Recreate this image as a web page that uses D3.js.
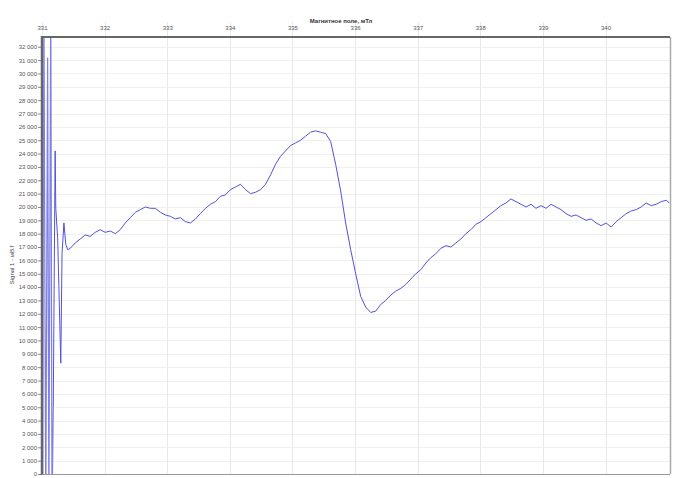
<!DOCTYPE html>
<html>
<head>
<meta charset="utf-8">
<script src="https://cdn.jsdelivr.net/npm/d3@7"></script>
<style>
  body { margin: 0; background: #fff; }
  .tick-label { font-family: "Liberation Sans", Arial, sans-serif; font-size: 6px; fill: #555; }
</style>
</head>
<body>
<div id="chart"></div>
<script>
// tick values
const fieldTicks = [331, 332, 333, 334, 335, 336, 337, 338, 339, 340];
const signalTicks = d3.range(0, 33000, 1000);

// data: [field mT, signal]
const spikes = [
  [331.01, -3000], [331.03, 36000], [331.06, -3000], [331.09, 31200], [331.11, -3000],
  [331.14, 36000], [331.16, -3000], [331.18, 5000], [331.21, 24200], [331.22, 19900],
  [331.25, 17700], [331.27, 14000], [331.30, 8300], [331.32, 16500], [331.35, 18800],
  [331.38, 17200], [331.41, 16800]
];
const signal = [
  [331.45,16900],[331.53,17300],[331.61,17600],[331.69,17900],[331.77,17800],[331.85,18100],
  [331.93,18300],[332.01,18100],[332.09,18200],[332.17,18000],[332.25,18300],[332.33,18800],
  [332.41,19200],[332.49,19600],[332.57,19800],[332.65,20000],[332.73,19900],[332.81,19900],
  [332.89,19600],[332.97,19400],[333.05,19300],[333.13,19100],[333.21,19200],[333.29,18900],
  [333.37,18800],[333.45,19100],[333.53,19500],[333.61,19900],[333.69,20200],[333.77,20400],
  [333.85,20800],[333.93,20900],[334.01,21300],[334.09,21500],[334.17,21700],[334.25,21300],
  [334.33,21000],[334.41,21100],[334.49,21300],[334.57,21700],[334.65,22400],[334.73,23200],
  [334.81,23800],[334.89,24200],[334.97,24600],[335.05,24800],[335.13,25000],[335.21,25300],
  [335.29,25600],[335.37,25700],[335.45,25600],[335.53,25500],[335.61,24900],[335.69,23200],
  [335.77,21200],[335.85,18800],[335.93,16800],[336.01,15000],[336.09,13300],[336.17,12500],
  [336.25,12100],[336.33,12200],[336.41,12700],[336.49,13000],[336.57,13400],[336.65,13700],
  [336.73,13900],[336.81,14200],[336.89,14600],[336.97,15000],[337.05,15300],[337.13,15800],
  [337.21,16200],[337.29,16500],[337.37,16900],[337.45,17100],[337.53,17000],[337.61,17300],
  [337.69,17600],[337.77,18000],[337.85,18300],[337.93,18700],[338.01,18900],[338.09,19200],
  [338.17,19500],[338.25,19800],[338.33,20100],[338.41,20300],[338.49,20600],[338.57,20400],
  [338.65,20200],[338.73,20000],[338.81,20200],[338.89,19900],[338.97,20100],[339.05,19900],
  [339.13,20200],[339.21,20000],[339.29,19800],[339.37,19500],[339.45,19300],[339.53,19400],
  [339.61,19200],[339.69,19000],[339.77,19100],[339.85,18800],[339.93,18600],[340.01,18800],
  [340.09,18500],[340.17,18900],[340.25,19200],[340.33,19500],[340.41,19700],[340.49,19800],
  [340.57,20000],[340.65,20300],[340.73,20100],[340.81,20200],[340.89,20400],[340.97,20500],
  [341.02,20300]
];

const width = 677;
const height = 478;
const margin = { top: 37, right: 7, bottom: 4, left: 42 };

const svg = d3.select("#chart")
    .append("svg")
    .attr("width", width)
    .attr("height", height);

const x = d3.scaleLinear()
    .domain([331, 341.03])
    .range([margin.left, width - margin.right]);

const y = d3.scaleLinear()
    .domain([0, 32730])
    .range([height - margin.bottom, margin.top]);

// grid
svg.append("g")
    .selectAll("line")
    .data(signalTicks)
    .enter()
    .append("line")
    .attr("x1", margin.left)
    .attr("x2", width - margin.right)
    .attr("y1", d => Math.round(y(d)) + 0.5)
    .attr("y2", d => Math.round(y(d)) + 0.5)
    .attr("stroke", "#f0f0f0");

svg.append("g")
    .selectAll("line")
    .data(fieldTicks)
    .enter()
    .append("line")
    .attr("x1", d => Math.round(x(d)) + 0.5)
    .attr("x2", d => Math.round(x(d)) + 0.5)
    .attr("y1", 22)
    .attr("y2", height - margin.bottom)
    .attr("stroke", "#e8e8e8");

// axes labels
const yaxis = d3.axisLeft(y)
    .tickValues(signalTicks)
    .tickSize(3)
    .tickFormat(d => d3.format(",")(d).replace(",", " "));

const yg = svg.append("g")
    .attr("transform", "translate(" + (margin.left - 1) + ",0)")
    .call(yaxis);
yg.select(".domain").remove();
yg.selectAll(".tick line").attr("stroke", "#888");
yg.selectAll(".tick text").attr("class", "tick-label").attr("x", -4).attr("font-size", null).attr("font-family", null).attr("fill", null);

const xaxis = d3.axisTop(x)
    .tickValues(fieldTicks)
    .tickSize(0)
    .tickFormat(d3.format("d"));

const xg = svg.append("g")
    .attr("transform", "translate(0," + (margin.top - 4) + ")")
    .call(xaxis);
xg.select(".domain").remove();
xg.selectAll(".tick text").attr("class", "tick-label").attr("font-size", null).attr("font-family", null).attr("fill", null);

// frame
svg.append("line")
    .attr("x1", margin.left - 1).attr("x2", width - margin.right)
    .attr("y1", margin.top).attr("y2", margin.top)
    .attr("stroke", "#666").attr("stroke-width", 2);
svg.append("line")
    .attr("x1", margin.left).attr("x2", margin.left)
    .attr("y1", margin.top - 1).attr("y2", height - margin.bottom + 1)
    .attr("stroke", "#666").attr("stroke-width", 2.5);
svg.append("line")
    .attr("x1", width - margin.right + 0.5).attr("x2", width - margin.right + 0.5)
    .attr("y1", margin.top).attr("y2", height - margin.bottom)
    .attr("stroke", "#aaa").attr("stroke-width", 1.5);
svg.append("line")
    .attr("x1", margin.left).attr("x2", width - margin.right)
    .attr("y1", height - margin.bottom + 0.5).attr("y2", height - margin.bottom + 0.5)
    .attr("stroke", "#999");

// titles
svg.append("text")
    .attr("x", 341)
    .attr("y", 23)
    .attr("text-anchor", "middle")
    .style("font-family", "Liberation Sans, Arial, sans-serif")
    .style("font-size", "6px")
    .style("font-weight", "bold")
    .attr("fill", "#333")
    .text("Магнитное поле, мТл");

svg.append("text")
    .attr("transform", "translate(14,265) rotate(-90)")
    .attr("text-anchor", "middle")
    .style("font-family", "Liberation Sans, Arial, sans-serif")
    .style("font-size", "6px")
    .attr("fill", "#444")
    .text("Signal 1 - мВ.f");

// signal line
svg.append("clipPath")
    .attr("id", "clip")
    .append("rect")
    .attr("x", margin.left + 1)
    .attr("y", margin.top + 1)
    .attr("width", width - margin.left - margin.right - 1)
    .attr("height", height - margin.top - margin.bottom - 1);

const line = d3.line()
    .x(d => x(d[0]))
    .y(d => y(d[1]));

// off-scale oscillations at the start look paler
svg.append("path")
    .attr("clip-path", "url(#clip)")
    .attr("d", line(spikes.slice(0, 8)))
    .attr("fill", "none")
    .attr("stroke", "#7f7fe6")
    .attr("stroke-width", 1.2);

svg.append("path")
    .attr("clip-path", "url(#clip)")
    .attr("d", line(spikes.slice(7).concat(signal)))
    .attr("fill", "none")
    .attr("stroke", "#5252dc")
    .attr("stroke-width", 1);
</script>
</body>
</html>
